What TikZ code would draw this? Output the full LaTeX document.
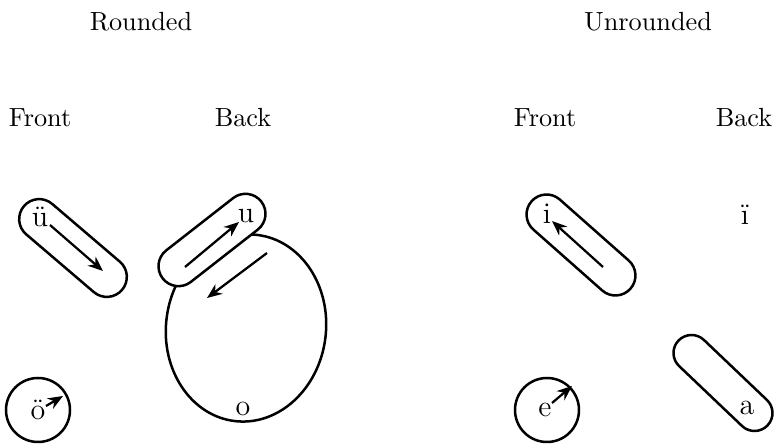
\documentclass[tikz,border=0pt]{standalone}
\usepackage{tikz}
\usetikzlibrary{arrows.meta,shapes.geometric}

\begin{document}
\begin{tikzpicture}[x=0.4pt,y=-0.4pt,
    lipshape/.style={draw, line width=1pt, fill=white, rounded corners=8pt, minimum height=16pt, inner sep=0pt},
    roundshape/.style={draw, line width=1pt, circle, minimum size=25.6pt, inner sep=0pt},
    vowel/.style={font=\fontsize{12}{14}\selectfont, inner sep=0pt},
    headtext/.style={font=\fontsize{10.5}{12}\selectfont, inner sep=0pt},
    glide/.style={-{Stealth[length=6pt,width=4.8pt]}, line width=0.9pt}]
    \useasboundingbox (0,0) rectangle (775,445);

    \node[headtext] (rounded) at (141,22) {Rounded};
    \node[headtext] (unrounded) at (648,22) {Unrounded};
    \node[headtext] (frontl) at (40,118) {Front};
    \node[headtext] (backl) at (243,118) {Back};
    \node[headtext] (frontr) at (545,118) {Front};
    \node[headtext] (backr) at (744,118) {Back};

    \node[draw, line width=1pt, ellipse, minimum width=64pt, minimum height=75pt, inner sep=0pt, rotate=-7] (oshape) at (246,328) {};
    \node[lipshape, minimum width=51.6pt, rotate=-40.5] (ueshape) at (73,248) {};
    \node[lipshape, minimum width=50pt, rotate=38] (ushape) at (212,240) {};
    \node[lipshape, minimum width=52.8pt, rotate=-41.5] (ishape) at (581,245) {};
    \node[lipshape, minimum width=49.2pt, minimum height=14.4pt, rounded corners=7.2pt, rotate=-43.6] (ashape) at (723,383) {};
    \node[roundshape] (oeshape) at (38,410) {};
    \node[roundshape] (eshape) at (547,410) {};

    \node[vowel] (ue) at (40,217) {ü};
    \node[vowel] (u) at (246,216) {u};
    \node[vowel] (o) at (243,409) {o};
    \node[vowel] (oe) at (38,410) {ö};
    \node[vowel] (i) at (547,214) {i};
    \node[vowel] (ie) at (745,215) {ï};
    \node[vowel] (e) at (545,410) {e};
    \node[vowel] (a) at (747,408) {a};

    \coordinate (uefrom) at (50,225);
    \coordinate (ueto) at (103,271);
    \coordinate (ufrom) at (185,267);
    \coordinate (uto) at (239,222);
    \coordinate (ofrom) at (267,253);
    \coordinate (oto) at (207,298);
    \coordinate (oefrom) at (46,406);
    \coordinate (oeto) at (63,396);
    \coordinate (ifrom) at (603,267);
    \coordinate (ito) at (552,221);
    \coordinate (efrom) at (552,403);
    \coordinate (eto) at (572,386);

    \draw[glide] (uefrom) -- (ueto);
    \draw[glide] (ufrom) -- (uto);
    \draw[glide] (ofrom) -- (oto);
    \draw[glide] (oefrom) -- (oeto);
    \draw[glide] (ifrom) -- (ito);
    \draw[glide] (efrom) -- (eto);
\end{tikzpicture}
\end{document}
